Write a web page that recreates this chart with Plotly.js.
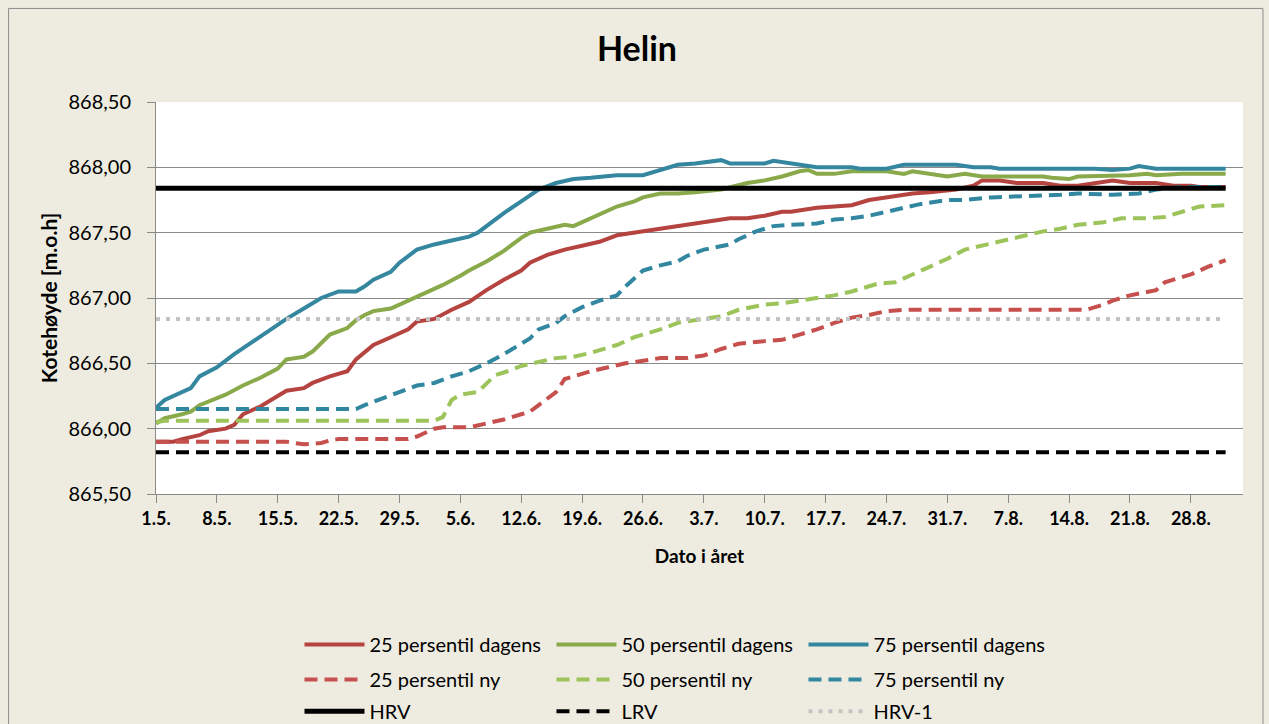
<!DOCTYPE html>
<html><head><meta charset="utf-8">
<script src="https://cdn.plot.ly/plotly-3.0.1.min.js"></script>
<style>html,body{margin:0;padding:0;background:#EEECE1;} #chart{width:1269px;height:724px;}</style>
</head><body><div id="chart"></div>
<script>
// Day offsets from 1. May (day 0 = 1.5.)
const d25Days = [0,2,3,5,6,8,9,10,12,14,15,17,18,20,22,23,25,27,29,30,32,34,36,38,40,42,43,45,47,49,51,53,56,57,60,61,63,66,68,70,72,73,76,78,80,82,84,86,87,89,92,94,95,97,99,102,104,106,108,110,112,115,117,119,120,123];
const d25Vals = [865.90,865.90,865.92,865.95,865.98,866.00,866.03,866.11,866.17,866.25,866.29,866.31,866.35,866.40,866.44,866.53,866.64,866.70,866.76,866.82,866.84,866.91,866.97,867.06,867.14,867.21,867.27,867.33,867.37,867.40,867.43,867.48,867.51,867.52,867.55,867.56,867.58,867.61,867.61,867.63,867.66,867.66,867.69,867.70,867.71,867.75,867.77,867.79,867.80,867.81,867.83,867.86,867.90,867.90,867.88,867.88,867.86,867.86,867.88,867.90,867.88,867.88,867.86,867.86,867.85,867.85];

const d50Days = [0,1,3,4,5,7,8,10,12,14,15,16,17,18,19,20,22,23,24,25,27,28,30,31,33,35,36,38,40,42,43,45,47,48,50,53,55,56,58,60,62,65,68,70,72,74,75,76,78,80,84,86,87,89,91,93,95,102,103,105,106,112,114,115,118,123];
const d50Vals = [866.04,866.08,866.11,866.13,866.18,866.23,866.26,866.33,866.39,866.46,866.53,866.54,866.55,866.59,866.66,866.72,866.77,866.83,866.87,866.90,866.92,866.95,867.01,867.04,867.10,867.17,867.21,867.28,867.36,867.46,867.50,867.53,867.56,867.55,867.61,867.70,867.74,867.77,867.80,867.80,867.81,867.83,867.88,867.90,867.93,867.97,867.98,867.95,867.95,867.97,867.97,867.95,867.97,867.95,867.93,867.95,867.93,867.93,867.92,867.91,867.93,867.94,867.95,867.94,867.95,867.95];

const d75Days = [0,1,4,5,7,9,11,13,15,17,19,21,23,24,25,27,28,30,32,34,36,37,38,40,42,44,46,48,50,53,56,58,60,62,64,65,66,70,71,73,76,80,81,84,86,92,94,96,97,108,110,112,113,115,123];
const d75Vals = [866.16,866.22,866.31,866.40,866.47,866.57,866.66,866.75,866.84,866.92,867.00,867.05,867.05,867.09,867.14,867.20,867.27,867.37,867.41,867.44,867.47,867.50,867.55,867.65,867.74,867.83,867.88,867.91,867.92,867.94,867.94,867.98,868.02,868.03,868.05,868.055,868.03,868.03,868.05,868.03,868.00,868.00,867.99,867.99,868.02,868.02,868.00,868.00,867.99,867.99,867.98,867.99,868.01,867.99,867.99];

const n25Days = [0,15,17,19,20,21,29,30,32,33,36,38,40,42,43,44,46,47,49,50,52,54,56,58,61,63,65,67,70,72,74,76,78,80,82,84,86,107,109,110,112,115,116,119,121,123];
const n25Vals = [865.90,865.90,865.88,865.89,865.91,865.92,865.92,865.94,866.00,866.01,866.01,866.04,866.07,866.11,866.13,866.18,866.28,866.38,866.42,866.44,866.47,866.50,866.52,866.54,866.54,866.56,866.61,866.65,866.67,866.68,866.72,866.76,866.81,866.85,866.87,866.90,866.91,866.91,866.95,866.98,867.02,867.06,867.12,867.18,867.24,867.29];

const n50Days = [0,1,32,33,34,35,37,39,40,42,44,46,48,50,53,55,58,60,63,65,67,70,72,74,76,78,80,82,83,85,87,89,91,93,95,97,99,102,104,106,109,111,114,116,118,120,123];
const n50Vals = [866.05,866.06,866.06,866.09,866.22,866.26,866.28,866.41,866.43,866.48,866.51,866.54,866.55,866.58,866.64,866.70,866.76,866.81,866.84,866.86,866.91,866.95,866.96,866.98,867.00,867.02,867.05,867.09,867.11,867.12,867.18,867.24,867.30,867.37,867.40,867.43,867.46,867.51,867.53,867.56,867.58,867.61,867.61,867.62,867.66,867.70,867.71];

const n75Days = [0,23,24,26,28,30,32,34,36,38,40,41,43,44,46,47,49,51,53,54,56,58,60,61,63,66,67,69,71,73,76,78,80,82,84,86,88,91,93,96,101,104,106,110,113,115,118,123];
const n75Vals = [866.15,866.15,866.18,866.23,866.28,866.33,866.35,866.40,866.44,866.50,866.57,866.61,866.69,866.76,866.81,866.86,866.93,866.98,867.02,867.09,867.21,867.25,867.28,867.32,867.37,867.41,867.45,867.51,867.55,867.56,867.57,867.60,867.61,867.63,867.66,867.69,867.72,867.75,867.75,867.77,867.78,867.79,867.80,867.79,867.80,867.83,867.85,867.85];

const refDays = [0,123];
const hrvVals = [867.84,867.84];
const lrvVals = [865.82,865.82];
const hrv1Vals = [866.84,866.84];

const seriesNames = ['25 persentil dagens','50 persentil dagens','75 persentil dagens','25 persentil ny','50 persentil ny','75 persentil ny','HRV','LRV','HRV-1'];

function toDate(d){ return new Date(Date.UTC(2011,4,1) + d*86400000).toISOString().slice(0,10); }
const X = a => a.map(toDate);

const traces = [
  {x:X(d25Days), y:d25Vals, name:seriesNames[0], line:{color:'#B5433F', width:4}, legend:'legend'},
  {x:X(d50Days), y:d50Vals, name:seriesNames[1], line:{color:'#89A94A', width:4}, legend:'legend'},
  {x:X(d75Days), y:d75Vals, name:seriesNames[2], line:{color:'#3587A0', width:4}, legend:'legend'},
  {x:X(n25Days), y:n25Vals, name:seriesNames[3], line:{color:'#C6504D', width:4, dash:'13px,7px'}, legend:'legend2'},
  {x:X(n50Days), y:n50Vals, name:seriesNames[4], line:{color:'#9DC45A', width:4, dash:'13px,7px'}, legend:'legend2'},
  {x:X(n75Days), y:n75Vals, name:seriesNames[5], line:{color:'#3287A0', width:4, dash:'13px,7px'}, legend:'legend2'},
  {x:X(refDays), y:hrvVals, name:seriesNames[6], line:{color:'#000000', width:5}, legend:'legend3'},
  {x:X(refDays), y:lrvVals, name:seriesNames[7], line:{color:'#000000', width:4, dash:'13px,7px'}, legend:'legend3'},
  {x:X(refDays), y:hrv1Vals, name:seriesNames[8], line:{color:'#C3C3C3', width:4, dash:'4px,6px'}, legend:'legend3'}
].map(t => Object.assign({type:'scatter', mode:'lines', hoverinfo:'skip'}, t));

const legendBase = {orientation:'h', xanchor:'left', yanchor:'middle', x:0.132, bgcolor:'rgba(0,0,0,0)',
  font:{family:'Lato', size:20, color:'#000'}, itemwidth:60, entrywidth:177, traceorder:'normal'};

const L=155.5, R=1243, T=101.7, B=494.3;
const pw = R-L, ph = B-T;
const layout = {
  width:1269, height:724,
  margin:{l:L, r:1269-R, t:T, b:724-B, pad:0, autoexpand:false},
  paper_bgcolor:'#EEECE1', plot_bgcolor:'#FFFFFF',
  separators:',.',
  font:{family:'Lato', color:'#000'},
  title:{text:'<b>Helin</b>', font:{family:'Lato', size:34, color:'#000'}, x:637/1269, xanchor:'center', y:1-49/724, yanchor:'middle'},
  xaxis:{type:'date', range:[toDate(0), toDate(125)], tick0:toDate(0), dtick:7*86400000, tickformat:'%-d.%-m.',
    showgrid:false, zeroline:false, showline:true, linecolor:'#898989', linewidth:1,
    ticks:'outside', ticklen:8, tickcolor:'#898989', ticklabelstandoff:0,
    tickfont:{family:'Lato', size:18, color:'#000', weight:'bold'},
    title:{text:'<b>Dato i året</b>', font:{family:'Lato', size:19, color:'#000'}, standoff:22}},
  yaxis:{range:[865.5,868.5], dtick:0.5, tick0:865.5, tickformat:'.2f',
    showgrid:true, gridcolor:'#898989', gridwidth:1, zeroline:false,
    showline:true, linecolor:'#898989', linewidth:1, ticks:'outside', ticklen:8, tickcolor:'#898989', ticklabelstandoff:12,
    tickfont:{family:'Lato', size:20, color:'#000'},
    title:{text:'<b>Kotehøyde [m.o.h]</b>', font:{family:'Lato', size:21, color:'#000'}, standoff:5}},
  legend: Object.assign({}, legendBase, {y:(B-645)/ph}),
  legend2: Object.assign({}, legendBase, {y:(B-680)/ph}),
  legend3: Object.assign({}, legendBase, {y:(B-712)/ph}),
  shapes:[{type:'rect', xref:'paper', yref:'paper', x0:(8-L)/pw, x1:(1263-L)/pw, y0:(B-760)/ph, y1:(B-8)/ph,
    line:{color:'#8C8C8C', width:1}, fillcolor:'rgba(0,0,0,0)', layer:'below'}],
  showlegend:true
};
Plotly.newPlot('chart', traces, layout, {displayModeBar:false, staticPlot:true});
</script></body></html>
